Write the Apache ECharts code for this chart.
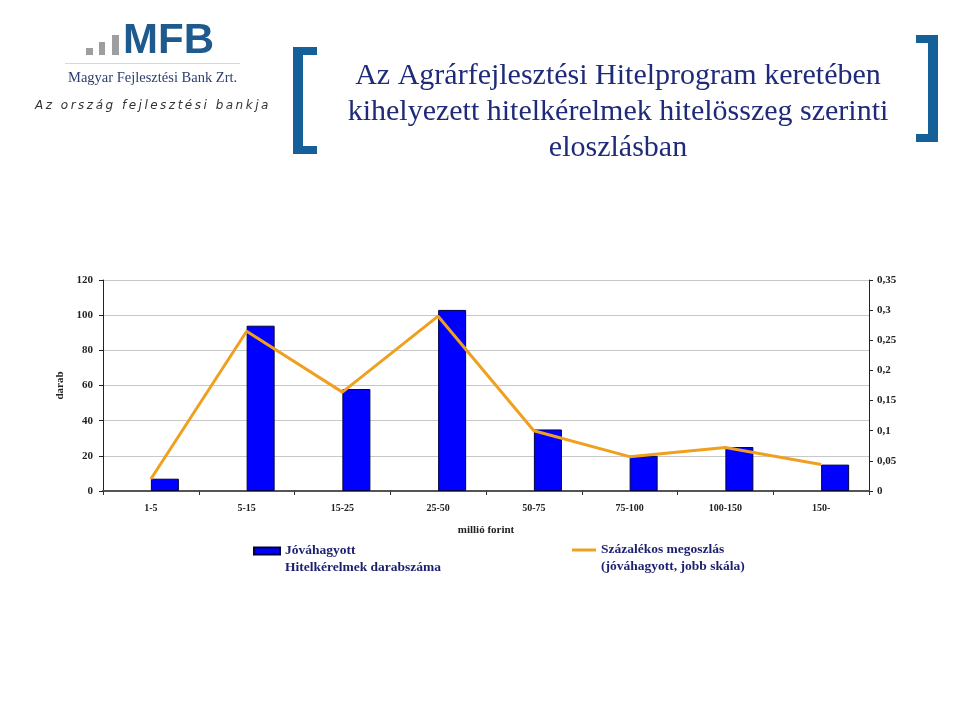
<!DOCTYPE html>
<html>
<head>
<meta charset="utf-8">
<script src="https://cdn.jsdelivr.net/npm/echarts@6/dist/echarts.min.js"></script>
<style>
html,body{margin:0;padding:0;background:#fff;}
#wrap{position:relative;width:960px;height:720px;}
#chart{position:absolute;left:0;top:0;width:960px;height:720px;}
#tagline{position:absolute;left:35px;top:98px;font-family:"DejaVu Sans",sans-serif;font-style:italic;font-size:12px;letter-spacing:2.5px;color:#333;white-space:nowrap;}
</style>
</head>
<body>
<div id="wrap">
<div id="chart"></div>
<div id="tagline">Az ország fejlesztési bankja</div>
</div>
<script>
const categories = ['1-5', '5-15', '15-25', '25-50', '50-75', '75-100', '100-150', '150-'];
const approvedCount = [7, 94, 58, 103, 35, 20, 25, 15];
const percentShare = [0.02, 0.265, 0.164, 0.29, 0.1, 0.057, 0.072, 0.044];
const leftTicks = { min: 0, max: 120, interval: 20 };
const rightTicks = { min: 0, max: 0.35, interval: 0.05 };
const barName = 'Jóváhagyott\nHitelkérelmek darabszáma';
const lineName = 'Százalékos megoszlás\n(jóváhagyott, jobb skála)';
const titleText = 'Az Agrárfejlesztési Hitelprogram keretében\nkihelyezett hitelkérelmek hitelösszeg szerinti\neloszlásban';

const serif = '"Liberation Serif", "DejaVu Serif", serif';
const chart = echarts.init(document.getElementById('chart'), null, { renderer: 'canvas' });
const blue = '#16609A';
const legendText = { fontFamily: serif, fontSize: 13.5, fontWeight: 'bold', color: '#1B1F6E', lineHeight: 17 };
// legend icons: the mark sits level with the first text line (invisible anchors at top/bottom)
const barIcon = 'path://M0,0L0,0Z M0,8.5L26,8.5L26,15.5L0,15.5Z M0,41L0,41Z';
const lineIcon = 'path://M0,0L0,0Z M0,10.5L24,10.5L24,13.5L0,13.5Z M0,41L0,41Z';

chart.setOption({
  backgroundColor: '#ffffff',
  animation: false,
  title: {
    text: titleText,
    left: 613,
    top: 53,
    textAlign: 'center',
    textStyle: { fontFamily: serif, fontSize: 30, fontWeight: 'normal', color: '#1F2A78', lineHeight: 36 }
  },
  graphic: [
    { type: 'rect', shape: { x: 293, y: 47, width: 10, height: 107 }, style: { fill: blue } },
    { type: 'rect', shape: { x: 293, y: 47, width: 24, height: 8 }, style: { fill: blue } },
    { type: 'rect', shape: { x: 293, y: 146, width: 24, height: 8 }, style: { fill: blue } },
    { type: 'rect', shape: { x: 928, y: 35, width: 10, height: 107 }, style: { fill: blue } },
    { type: 'rect', shape: { x: 916, y: 35, width: 22, height: 8 }, style: { fill: blue } },
    { type: 'rect', shape: { x: 916, y: 134, width: 22, height: 8 }, style: { fill: blue } },
    { type: 'rect', shape: { x: 86, y: 48, width: 7, height: 7 }, style: { fill: '#9E9E9E' } },
    { type: 'rect', shape: { x: 99, y: 42, width: 6, height: 13 }, style: { fill: '#9E9E9E' } },
    { type: 'rect', shape: { x: 112, y: 35, width: 7, height: 20 }, style: { fill: '#9E9E9E' } },
    { type: 'text', x: 123, y: 41, style: { text: 'MFB', fontFamily: '"Liberation Sans", Arial, sans-serif', fontWeight: 'bold', fontSize: 42, fill: '#1F5A8E', verticalAlign: 'middle', align: 'left' } },
    { type: 'rect', shape: { x: 65, y: 63, width: 175, height: 1 }, style: { fill: '#d8d8d8' } },
    { type: 'text', x: 68, y: 78, style: { text: 'Magyar Fejlesztési Bank Zrt.', fontFamily: serif, fontSize: 14.5, fill: '#2B3F6E', verticalAlign: 'middle', align: 'left' } }
  ],
  legend: [
    {
      data: [{ name: barName, icon: barIcon }], left: 253, top: 538, padding: 0,
      itemWidth: 26, itemHeight: 41,
      textStyle: legendText
    },
    {
      data: [{ name: lineName, icon: lineIcon }], left: 572, top: 538, padding: 0,
      itemWidth: 24, itemHeight: 41,
      textStyle: legendText
    }
  ],
  grid: { left: 103, right: 91, top: 280, bottom: 229, containLabel: false },
  xAxis: {
    type: 'category',
    data: categories,
    boundaryGap: true,
    name: 'millió forint',
    nameLocation: 'middle',
    nameGap: 34,
    nameTextStyle: { fontFamily: serif, fontSize: 11, fontWeight: 'bold', color: '#222' },
    axisLine: { lineStyle: { color: '#555', width: 2 } },
    axisTick: { show: true, length: 4, lineStyle: { color: '#333' } },
    axisLabel: { fontFamily: serif, fontSize: 10, fontWeight: 'bold', color: '#222', margin: 12 }
  },
  yAxis: [
    {
      type: 'value',
      min: leftTicks.min, max: leftTicks.max, interval: leftTicks.interval,
      name: 'darab', nameLocation: 'middle', nameGap: 26, nameRotate: 90,
      nameTextStyle: { fontFamily: serif, fontSize: 11, fontWeight: 'bold', color: '#222' },
      axisLine: { show: true, lineStyle: { color: '#222', width: 1 } },
      axisTick: { show: true, length: 4, lineStyle: { color: '#222' } },
      axisLabel: { fontFamily: serif, fontSize: 11, fontWeight: 'bold', color: '#222', margin: 10 },
      splitLine: { show: true, lineStyle: { color: '#c8c8c8', width: 1 } }
    },
    {
      type: 'value',
      min: rightTicks.min, max: rightTicks.max, interval: rightTicks.interval,
      position: 'right',
      axisLine: { show: true, lineStyle: { color: '#222', width: 1 } },
      axisTick: { show: true, length: 4, lineStyle: { color: '#222' } },
      axisLabel: {
        fontFamily: serif, fontSize: 11, fontWeight: 'bold', color: '#222', margin: 8,
        formatter: v => String(Math.round(v * 100) / 100).replace('.', ',')
      },
      splitLine: { show: false }
    }
  ],
  series: [
    {
      name: '_spacer', type: 'bar', barWidth: 28, barGap: '0%',
      data: categories.map(() => 0),
      itemStyle: { color: 'rgba(0,0,0,0)' }, silent: true, legendHoverLink: false
    },
    {
      name: barName, type: 'bar', barWidth: 28, barGap: '0%',
      data: approvedCount,
      itemStyle: { color: '#0000FF', borderColor: '#000040', borderWidth: 1 }
    },
    {
      name: lineName, type: 'line', yAxisIndex: 1,
      data: percentShare,
      symbol: 'none',
      lineStyle: { color: '#F0A020', width: 3 },
      itemStyle: { color: '#F0A020' },
      z: 5
    }
  ]
});
</script>
</body>
</html>
